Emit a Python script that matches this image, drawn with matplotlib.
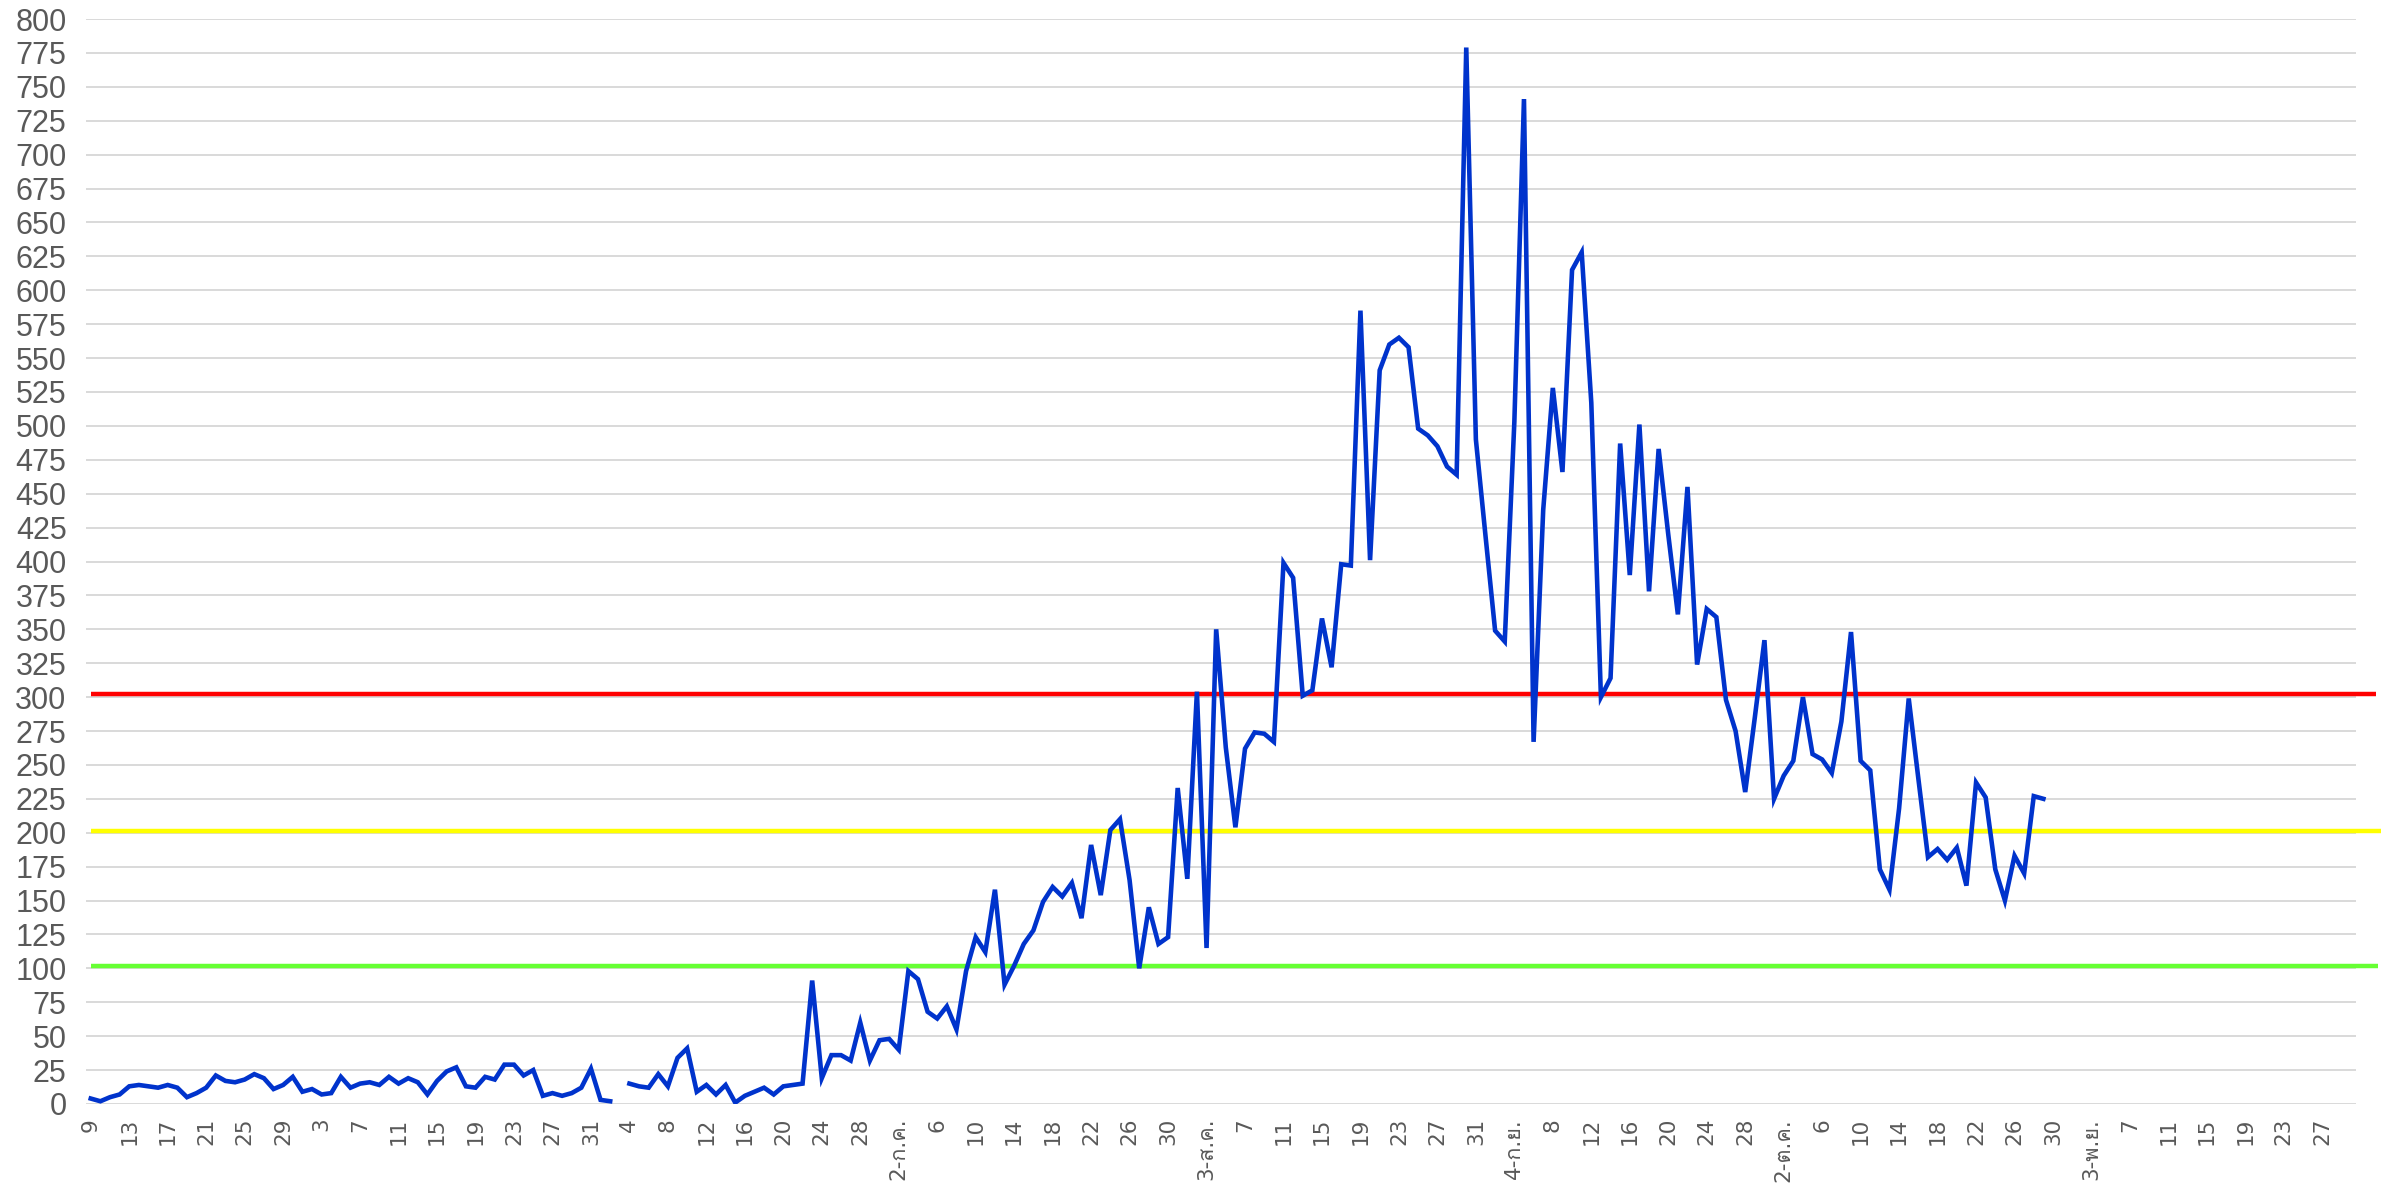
import numpy as np
import matplotlib
matplotlib.use('Agg')
import matplotlib.pyplot as plt
from matplotlib import font_manager
from matplotlib.ft2font import FT2Font

# daily values, day 0 = 9 Apr, nan = missing day (3 Jun)
vals_apr_may = [4, 2, 5, 7, 13, 14, 13, 12, 14, 12, 5, 8, 12, 21, 17, 16, 18, 22, 19, 11,
                14, 20, 9, 11, 7, 8, 20, 12, 15, 16, 14, 20, 15, 19, 16, 7, 17, 24, 27, 13,
                12, 20, 18, 29, 29, 21, 25, 6, 8, 6, 8, 12, 26, 3, 2]
vals_jun = [np.nan, 15, 13, 12, 22, 13, 34, 41, 9, 14, 7, 14, 1, 6, 9, 12, 7, 13, 14, 15,
            91, 19, 36, 36, 32, 60, 32, 47, 48, 40]
vals_jul = [98, 92, 68, 63, 72, 55, 98, 123, 112, 158, 88, 102, 118, 128, 149, 160, 153, 163,
            137, 191, 154, 202, 210, 165, 100, 145, 118, 123, 233, 166, 304, 115, 350, 263,
            204, 262, 274, 273, 267, 399]
vals_aug_sep = [388, 301, 305, 358, 322, 398, 397, 585, 401, 541, 560, 565, 558, 498, 493,
                485, 470, 464, 779, 490, 419, 349, 341, 503, 741, 267, 438, 528, 466, 615,
                628, 517, 300, 314, 487, 390, 501, 378, 483]
vals_sep_oct = [420, 361, 455, 324, 365, 359, 298, 275, 230, 285, 342, 225, 242, 253, 300,
                258, 254, 244, 282, 348, 253, 246, 173, 158, 218, 299, 240, 182, 188, 180,
                189, 161, 237, 226, 173, 150, 183, 170, 227, 225]
values = np.array(vals_apr_may + vals_jun + vals_jul + vals_aug_sep + vals_sep_oct, dtype=float)
days = np.arange(len(values))

# threshold levels
levels = [102, 201, 302]
level_colors = ['#66ff33', '#ffff00', '#ff0000']
level_ends = [237.8, 238.5, 237.6]

# x tick labels, every 4 days from 9 Apr to 27 Nov
xlabels = ['9', '13', '17', '21', '25', '29',
           '3', '7', '11', '15', '19', '23', '27', '31',
           '4', '8', '12', '16', '20', '24', '28',
           '2-ก.ค.', '6', '10', '14', '18', '22', '26', '30',
           '3-ส.ค.', '7', '11', '15', '19', '23', '27', '31',
           '4-ก.ย.', '8', '12', '16', '20', '24', '28',
           '2-ต.ค.', '6', '10', '14', '18', '22', '26', '30',
           '3-พ.ย.', '7', '11', '15', '19', '23', '27']
xticks = np.arange(len(xlabels)) * 4

# find a font with thai glyphs
thai_family = None
for f in font_manager.fontManager.ttflist:
    try:
        if ord('ก') in FT2Font(f.fname).get_charmap():
            thai_family = f.name
            break
    except Exception:
        pass
xfam = ['DejaVu Sans'] + ([thai_family] if thai_family else [])

fig = plt.figure(figsize=(23.81, 11.90), dpi=100)
ax = fig.add_axes([0.0361, 0.0723, 0.9534, 0.9117])

for lv, c, e in zip(levels, level_colors, level_ends):
    ax.plot([0, e], [lv, lv], color=c, lw=3.2, clip_on=False, zorder=3, solid_capstyle='butt')

ax.plot(days, values, color='#0033cc', lw=3.3, zorder=4, solid_joinstyle='miter')

ax.set_xlim(-0.5, 235.5)
ax.set_ylim(0, 800)
ax.set_yticks(np.arange(0, 801, 25))
ax.set_yticklabels([str(v) for v in range(0, 801, 25)], fontsize=22,
                   color='#595959', family='Liberation Sans')
ax.set_xticks(xticks)
ax.set_xticklabels(xlabels, rotation=90, fontsize=15.5, color='#595959', family=xfam,
                   va='top')
ax.tick_params(axis='both', length=0)
ax.tick_params(axis='y', pad=14)
ax.tick_params(axis='x', pad=10)
ax.yaxis.grid(True, color='#d9d9d9', lw=1.4, zorder=0)
ax.set_axisbelow(True)
for s in ax.spines.values():
    s.set_visible(False)

fig.savefig('out.png', dpi=100, facecolor='white')
